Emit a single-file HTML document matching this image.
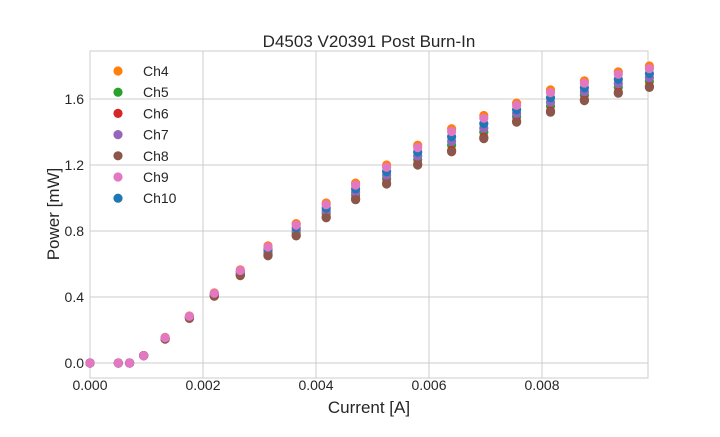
<!DOCTYPE html>
<html><head><meta charset="utf-8"><style>body{margin:0;background:#fff}</style></head><body>
<svg id="s" width="720" height="432" xmlns="http://www.w3.org/2000/svg" font-family="Liberation Sans, DejaVu Sans, sans-serif">
<rect width="720" height="432" fill="#fff"/>
<g stroke="#cccccc" stroke-width="1">
<line x1="203" y1="51" x2="203" y2="378"/><line x1="316" y1="51" x2="316" y2="378"/><line x1="429" y1="51" x2="429" y2="378"/><line x1="542" y1="51" x2="542" y2="378"/>
<line x1="90" y1="363" x2="648" y2="363"/><line x1="90" y1="297" x2="648" y2="297"/><line x1="90" y1="231" x2="648" y2="231"/><line x1="90" y1="165" x2="648" y2="165"/><line x1="90" y1="99" x2="648" y2="99"/>
<rect x="90" y="51" width="558" height="327" fill="none"/>
</g>
<g font-size="14" fill="#262626" text-anchor="middle">
<text x="90" y="390">0.000</text><text x="203" y="390">0.002</text><text x="316" y="390">0.004</text><text x="429" y="390">0.006</text><text x="542" y="390">0.008</text>
</g>
<g font-size="14" fill="#262626" text-anchor="end">
<text x="84" y="368">0.0</text><text x="84" y="302">0.4</text><text x="84" y="236">0.8</text><text x="84" y="170">1.2</text><text x="84" y="104">1.6</text>
</g>
<text x="369" y="413" font-size="17" text-anchor="middle" fill="#262626">Current [A]</text>
<text x="59" y="214" font-size="17" text-anchor="middle" fill="#262626" transform="rotate(-90 59 214)">Power [mW]</text>
<text x="369" y="47" font-size="17" text-anchor="middle" fill="#262626">D4503 V20391 Post Burn-In</text>
<g id="pts"></g>
<g id="leg" font-size="14" fill="#262626"></g>
</svg>
<script>
var xs=[0,0.0005,0.0007,0.00095,0.00133,0.00176,0.0022,0.00266,0.00315,0.00365,0.00418,0.0047,0.00525,0.0058,0.0064,0.00697,0.00755,0.00815,0.00875,0.00935,0.0099];
var hi=[0,0,0,0.045,0.155,0.285,0.425,0.565,0.71,0.845,0.97,1.09,1.2,1.32,1.42,1.5,1.575,1.655,1.71,1.765,1.8];
var lo=[0,0,0,0.045,0.145,0.27,0.405,0.53,0.65,0.77,0.88,0.99,1.085,1.2,1.28,1.36,1.46,1.52,1.59,1.635,1.67];
var ch=[["Ch4","#ff7f0e",0],["Ch5","#2ca02c",0.72],["Ch6","#d62728",0.95],["Ch7","#9467bd",0.55],["Ch8","#8c564b",1],["Ch9","#e377c2",0.12],["Ch10","#1f77b4",0.35]];
var order=[0,1,2,3,6,4,5];var s="";
order.forEach(function(k){var c=ch[k];for(var i=0;i<xs.length;i++){var v=hi[i]+(lo[i]-hi[i])*c[2];var x=90+xs[i]*56500,y=363-v*165;s+='<circle cx="'+x.toFixed(1)+'" cy="'+y.toFixed(1)+'" r="4.6" fill="'+c[1]+'"/>';}});
document.getElementById("pts").innerHTML=s;var l="";
ch.forEach(function(c,i){var y=71+i*21.2;l+='<circle cx="118" cy="'+y+'" r="4.6" fill="'+c[1]+'"/><text x="143" y="'+(y+5)+'">'+c[0]+'</text>';});
document.getElementById("leg").innerHTML=l;
</script>
</body></html>
